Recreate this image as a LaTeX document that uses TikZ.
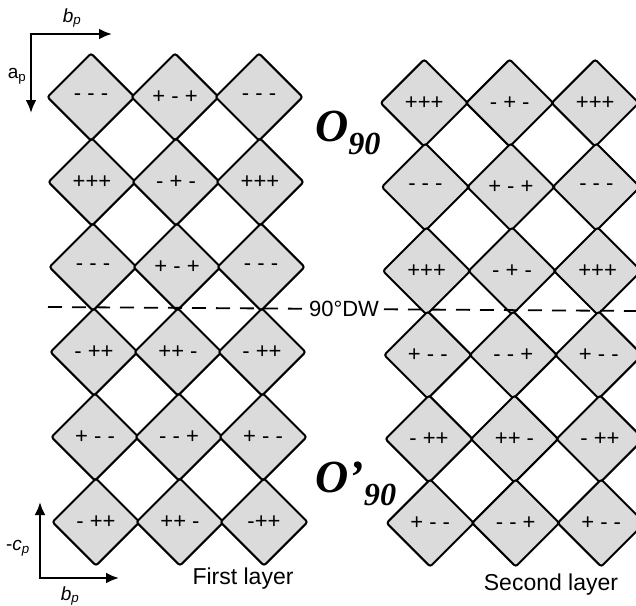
\documentclass[tikz,border=0pt]{standalone}
\usepackage{fontspec}
\setmainfont{Liberation Sans}
\newfontfamily\romanfont{Liberation Serif}
\usepackage{tikz}
\usetikzlibrary{arrows.meta,shapes.geometric}
\tikzset{
  cell/.style={diamond,draw=black,fill=black!14,line width=2pt,rounded corners=2.5pt,minimum width=88pt,minimum height=88pt,inner sep=0pt,font=\fontsize{22}{22}\selectfont},
  axis/.style={{Latex[length=13pt,width=11pt]}-{Latex[length=13pt,width=11pt]},line width=2.4pt},
  wall/.style={dash pattern=on 14pt off 10pt,line width=1.8pt},
  lbl/.style={font=\fontsize{23}{23}\selectfont},
  axlbl/.style={font=\fontsize{19}{19}\selectfont,inner sep=0pt},
  phase/.style={font=\romanfont\bfseries\itshape\fontsize{46}{46}\selectfont,inner sep=0pt}
}
\begin{document}
\begin{tikzpicture}[x=1pt,y=-1pt]
\useasboundingbox (0,0) rectangle (636,605);
\clip (0,0) rectangle (636,605);
% first layer
\foreach \r/\ta/\tb/\tc in {1/{- - -}/{+ - +}/{- - -},2/{+++}/{- + -}/{+++},3/{- - -}/{+ - +}/{- - -},4/{- ++}/{++ -}/{- ++},5/{+ - -}/{- - +}/{+ - -},6/{- ++}/{++ -}/{-++}}{
  \node[cell] (f\r1) at (90+\r,12+85*\r) {\ta};
  \node[cell] (f\r2) at (174+\r,12+85*\r) {\tb};
  \node[cell] (f\r3) at (258+\r,12+85*\r) {\tc};
}
% second layer
\foreach \r/\ta/\tb/\tc in {1/{+++}/{- + -}/{+++},2/{- - -}/{+ - +}/{- - -},3/{+++}/{- + -}/{+++},4/{+ - -}/{- - +}/{+ - -},5/{- ++}/{++ -}/{- ++},6/{+ - -}/{- - +}/{+ - -}}{
  \node[cell] (s\r1) at (423+1.2*\r,19+84*\r) {\ta};
  \node[cell] (s\r2) at (508.5+1.2*\r,19+84*\r) {\tb};
  \node[cell] (s\r3) at (594+1.2*\r,19+84*\r) {\tc};
}
% domain wall
\coordinate (dwL) at (48,307);
\coordinate (dwR) at (640,311);
\draw[wall] (dwL) -- (dwR);
\node[font=\fontsize{22}{22}\selectfont,fill=white,inner sep=1pt] (dw) at (344,309) {90\textdegree DW};
\node[phase] (o90) at (348,133) {O\textsubscript{90}};
\node[phase] (o90b) at (356,484) {O’\textsubscript{90}};
% axes
\coordinate (oTop) at (31,34);
\coordinate (bTop) at (112,34);
\coordinate (aTop) at (31,113);
\draw[axis] (bTop) -- (oTop) -- (aTop);
\node[axlbl] (bLblTop) at (72,18) {\textit{b}\textsubscript{\textit{p}}};
\node[axlbl] (aLbl) at (17,76) {a\textsubscript{p}};
\coordinate (oBot) at (40,578);
\coordinate (cBot) at (40,502);
\coordinate (bBot) at (119,578);
\draw[axis] (cBot) -- (oBot) -- (bBot);
\node[axlbl] (cLbl) at (18,548) {-\textit{c}\textsubscript{\textit{p}}};
\node[axlbl] (bLblBot) at (70,596) {\textit{b}\textsubscript{\textit{p}}};
\node[lbl] (first) at (243,579) {First layer};
\node[lbl] (second) at (551,585) {Second layer};
\end{tikzpicture}
\end{document}
